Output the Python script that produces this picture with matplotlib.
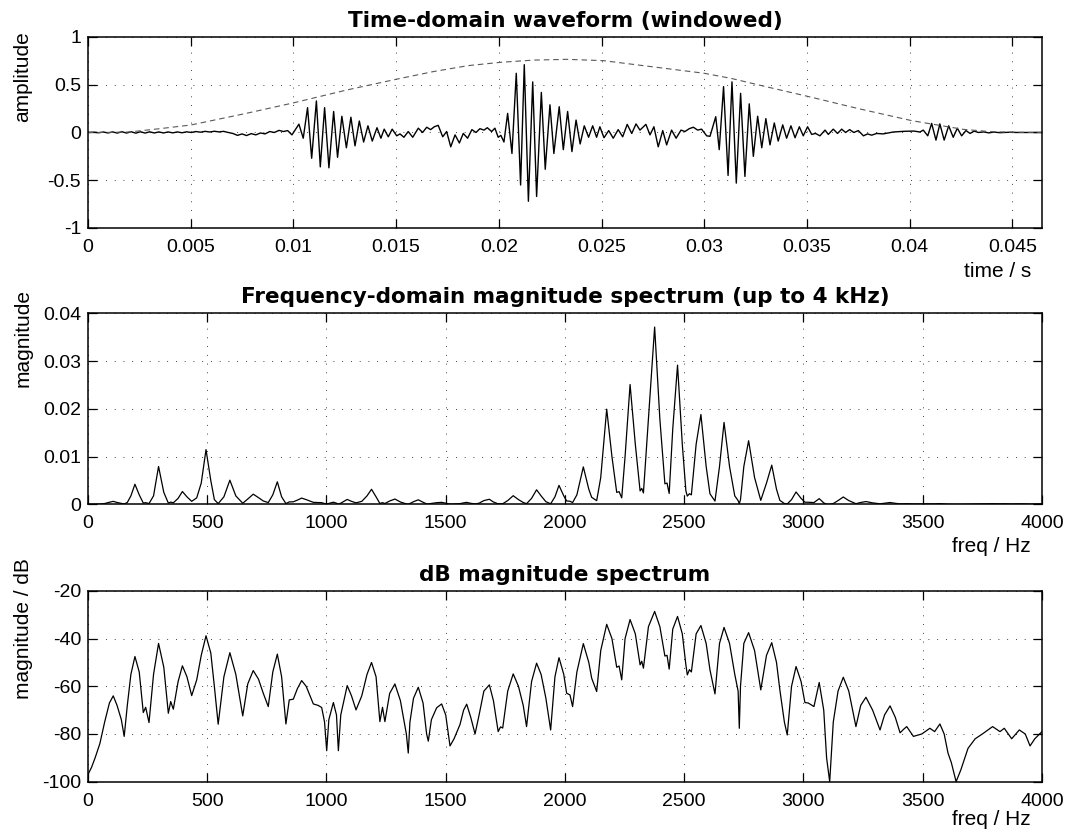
import numpy as np
import matplotlib
matplotlib.use("Agg")
import matplotlib.pyplot as plt

plt.rcParams['font.family'] = ['Liberation Sans', 'DejaVu Sans']
plt.rcParams['axes.unicode_minus'] = False  # plain hyphen minus like the original

# time-domain waveform (time in ms, amplitude)
wave_t = [0.00, 0.30, 0.52, 0.75, 0.98, 1.20, 1.43, 1.65, 1.88, 2.10, 2.33, 2.55, 2.78, 3.00, 3.23, 3.45,
          3.68, 3.90, 4.13, 4.35, 4.58, 4.80, 5.03, 5.25, 5.48, 5.70, 5.93, 6.15, 6.38, 6.60, 6.83, 7.05,
          7.28, 7.50, 7.72, 7.95, 8.17, 8.40, 8.62, 8.85, 9.07, 9.30, 9.52, 9.72, 9.93,
          10.27, 10.48, 10.69, 10.89, 11.12, 11.31, 11.52, 11.73, 11.96, 12.15, 12.36, 12.58, 12.80, 13.00,
          13.21, 13.42, 13.63, 13.84, 14.07, 14.26, 14.42, 14.62, 14.81, 15.03, 15.19, 15.38, 15.59, 15.81,
          16.08, 16.29, 16.49, 16.68, 16.86, 17.05, 17.27, 17.46, 17.66, 17.87, 18.08, 18.27, 18.48, 18.69,
          18.89, 19.08, 19.28, 19.44, 19.65, 19.81, 19.97, 20.10, 20.25,
          20.43, 20.64, 20.85, 21.06, 21.24, 21.44, 21.65, 21.84, 22.07, 22.26, 22.49, 22.68, 22.94, 23.14,
          23.35, 23.56, 23.76, 23.96, 24.16, 24.37, 24.57, 24.76, 24.92, 25.12, 25.35, 25.57, 25.81, 26.03,
          26.25, 26.47, 26.68, 26.87, 27.16, 27.36, 27.55, 27.76, 27.98, 28.17, 28.41, 28.63, 28.87, 29.06,
          29.27, 29.47, 29.68, 29.87, 30.12, 30.28,
          30.56, 30.73, 30.94, 31.16, 31.35, 31.56, 31.77, 31.98, 32.19, 32.39, 32.60, 32.80, 33.00, 33.20,
          33.41, 33.60, 33.82, 34.01, 34.22, 34.42, 34.63, 34.82, 35.03, 35.23, 35.42, 35.63, 35.88, 36.04,
          36.28, 36.49, 36.69,
          36.88, 37.08, 37.28, 37.50, 37.75, 37.95, 38.15, 38.40, 38.70, 39.20, 39.70, 40.20, 40.50, 40.66,
          40.88, 41.07, 41.28, 41.47, 41.68, 41.90, 42.12, 42.32, 42.53, 42.74, 42.94, 43.14, 43.34, 43.60,
          43.85, 44.10, 44.40, 44.80, 45.30, 46.44]
wave_y = [0.000, 0.003, -0.003, 0.005, -0.005, 0.006, -0.006, 0.008, -0.006, 0.008, -0.007, 0.008, -0.006,
          0.007, -0.005, 0.006, -0.005, 0.006, -0.004, 0.006, -0.003, 0.007, 0.000, 0.010, 0.003, 0.012,
          0.005, 0.013, 0.006, 0.012, 0.000, -0.010, -0.030, -0.015, -0.032, -0.012, -0.025, -0.005, -0.015,
          0.010, 0.000, 0.022, 0.010, 0.020, -0.025,
          0.087, -0.06, 0.26, -0.27, 0.33, -0.36, 0.26, -0.37, 0.22, -0.26, 0.17, -0.16, 0.16, -0.14,
          0.12, -0.10, 0.07, -0.09, 0.05, -0.06, 0.035, -0.045, 0.035, -0.035, -0.015, -0.05, 0.01, -0.05,
          0.045, 0.0, 0.055, 0.03, 0.06, 0.075, -0.045, 0.01, -0.15, -0.025, -0.11, -0.01, -0.06, 0.03,
          0.0, 0.04, 0.025, 0.05, 0.01, 0.045, -0.05, -0.03, -0.10,
          0.20, -0.22, 0.62, -0.55, 0.71, -0.72, 0.53, -0.67, 0.42, -0.385, 0.29, -0.22, 0.27, -0.18,
          0.22, -0.20, 0.13, -0.12, 0.07, -0.05, 0.07, -0.05, 0.06, -0.055, 0.02, -0.06, 0.03, -0.045,
          0.085, -0.01, 0.09, 0.025, 0.085, -0.025, 0.06, -0.15, 0.02, -0.13, 0.025, -0.06, 0.025, 0.01,
          0.04, 0.055, 0.025, 0.035, -0.035, -0.04,
          0.165, -0.18, 0.48, -0.45, 0.53, -0.53, 0.41, -0.46, 0.30, -0.25, 0.17, -0.16, 0.145, -0.13,
          0.10, -0.09, 0.08, -0.06, 0.07, -0.055, 0.06, -0.035, 0.06, -0.02, -0.01, -0.035, 0.025, -0.02,
          0.035, -0.01, 0.035,
          0.0, 0.03, 0.0, 0.02, -0.035, -0.015, -0.028, -0.01, -0.015, 0.005, 0.012, 0.015, 0.005, 0.025,
          -0.035, 0.095, -0.08, 0.09, -0.08, 0.07, -0.05, 0.045, -0.035, 0.02, -0.01, 0.015, 0.0, 0.006,
          -0.004, 0.004, -0.002, 0.002, 0.0, 0.0]

# window envelope (dashed), ms and value
win_t = [0.0, 1.0, 2.0, 3.5, 5.0, 7.7, 10.0, 12.6, 15.0, 16.8, 18.5, 20.1, 21.7, 23.3, 25.1, 27.4, 28.7,
         30.0, 31.3, 33.0, 35.1, 37.5, 40.1, 42.6, 44.0, 45.0, 46.44]
win_y = [0.0, 0.001, 0.005, 0.04, 0.078, 0.2, 0.31, 0.445, 0.557, 0.637, 0.70, 0.735, 0.758, 0.766, 0.752,
         0.69, 0.655, 0.62, 0.567, 0.48, 0.375, 0.25, 0.124, 0.033, 0.008, 0.003, 0.0]

# spectrum in dB (Hz, dB)
spec_f = [0, 15, 30, 50, 70, 90, 106, 122, 140, 152, 165, 180, 197, 215, 232, 242, 256, 275, 296, 318,
          337, 347, 358, 378, 396, 415, 435, 456, 475, 495, 515, 530, 546, 570, 595, 620, 649, 670, 693,
          715, 735, 756, 775, 794, 812, 830, 844, 861, 878, 896, 915, 945, 965, 980, 992, 1001, 1010, 1029,
          1042, 1050, 1060, 1087, 1105, 1124, 1148, 1170, 1189, 1208, 1224, 1235, 1245, 1265, 1287, 1310,
          1335, 1343, 1350, 1365, 1385, 1405, 1420, 1427, 1440, 1462, 1483, 1500, 1518, 1535, 1560, 1575,
          1588, 1605, 1623, 1640, 1660, 1683, 1700, 1720, 1730, 1739, 1760, 1783, 1805, 1825, 1839, 1860,
          1881, 1900, 1920, 1940, 1958, 1975, 1995, 2007, 2021, 2032, 2050, 2077, 2100, 2112, 2133, 2150,
          2175, 2197, 2217, 2227, 2238, 2252, 2273, 2295, 2315, 2322, 2329, 2350, 2376, 2398, 2419, 2428,
          2437, 2452, 2472, 2492, 2507, 2513, 2522, 2530, 2550, 2570, 2592, 2608, 2629, 2648, 2667, 2690,
          2712, 2726, 2731, 2736, 2750, 2770, 2795, 2821, 2845, 2867, 2887, 2901, 2920, 2932, 2950, 2969,
          2990, 3006, 3020, 3044, 3066, 3085, 3097, 3110, 3125, 3145, 3167, 3190, 3220, 3240, 3262, 3290,
          3321, 3340, 3363, 3385, 3405, 3420, 3433, 3461, 3496, 3530, 3550, 3572, 3590, 3606, 3620, 3640,
          3660, 3690, 3720, 3750, 3793, 3824, 3842, 3873, 3905, 3930, 3950, 3970, 4000]
spec_db = [-97, -94, -90, -84, -75, -67, -64, -68, -74, -81, -68, -55, -47.5, -54, -71, -68.8, -75.2, -55,
           -42, -52, -71.3, -66.4, -69.6, -58, -51.4, -56, -63.9, -57.3, -47, -38.8, -46, -60, -75.9, -56,
           -45.9, -55, -72.4, -59, -53.4, -57, -62.9, -68.5, -54, -46.5, -56, -75.8, -65.7, -65.4, -61,
           -57.6, -60, -67.4, -68, -68.9, -75, -87, -74, -66.8, -72, -87, -72, -59.7, -64, -69.9, -64, -55,
           -50, -56, -74.8, -68.8, -74.8, -63, -59, -66, -80, -88, -75, -65, -60.4, -67, -80, -83, -74, -69,
           -67.4, -72, -85, -82, -76, -70, -67.5, -73, -80, -72, -62, -59.4, -66, -79, -77, -77.5, -62,
           -54.8, -60, -68, -76.9, -58, -50.3, -55, -65, -78.3, -56, -48, -55, -62.9, -63.6, -68.5, -54,
           -42.1, -50, -56.6, -62.2, -45, -34.0, -40, -52, -51.5, -57.3, -40, -32.0, -38, -51, -49.5, -52.4,
           -35, -28.6, -35, -47.3, -47, -52.8, -36, -30.7, -38, -51, -55.2, -53, -54, -38, -34.5, -42,
           -53.1, -63.2, -42, -35.3, -42, -55, -62, -77.6, -60, -42, -37.5, -45, -61.5, -47, -41.7, -50,
           -61.5, -75, -80.4, -60, -51.7, -58, -66.8, -67, -68.5, -58.4, -70, -90, -100, -75, -62, -56.2,
           -62, -76.9, -68, -64.6, -70, -78.3, -72, -68.2, -73, -79.5, -78, -76.9, -81, -80, -77.6, -79,
           -75.8, -80, -88, -92, -100, -95, -86, -82, -80, -76.9, -79, -77.6, -82, -78.3, -80, -85, -82, -79]

time_ticks = [0, 0.005, 0.01, 0.015, 0.02, 0.025, 0.03, 0.035, 0.04, 0.045]
time_ticklabels = ['0', '0.005', '0.01', '0.015', '0.02', '0.025', '0.03', '0.035', '0.04', '0.045']
amp_ticks = [-1, -0.5, 0, 0.5, 1]
amp_ticklabels = ['-1', '-0.5', '0', '0.5', '1']
freq_ticks = [0, 500, 1000, 1500, 2000, 2500, 3000, 3500, 4000]
mag_ticks = [0, 0.01, 0.02, 0.03, 0.04]
mag_ticklabels = ['0', '0.01', '0.02', '0.03', '0.04']
db_ticks = [-100, -80, -60, -40, -20]

t = np.array(wave_t) / 1000.0
tw = np.array(win_t) / 1000.0
f = np.array(spec_f)
db = np.array(spec_db)
mag = 10 ** (db / 20.0)  # linear magnitude from dB

fig = plt.figure(figsize=(10.7, 8.33), dpi=100)
ax1 = fig.add_axes([0.0822, 0.7263, 0.8916, 0.2293])
ax2 = fig.add_axes([0.0822, 0.3945, 0.8916, 0.2292])
ax3 = fig.add_axes([0.0822, 0.0616, 0.8916, 0.2290])

title_font = dict(family='DejaVu Sans', fontsize=15.5, fontweight='bold')

def matlab_style(ax):
    for s in ax.spines.values():
        s.set_linewidth(1.1)
    ax.tick_params(direction='in', length=6.5, width=0.9, top=True, right=True,
                   labelsize=14, pad=8)
    ax.tick_params(axis='y', pad=5)
    ax.grid(True, color='k', linestyle=(0, (1, 9.5)), linewidth=0.6)

ax1.plot(t, wave_y, color='k', linewidth=1.0)
ax1.plot(tw, win_y, color='0.35', linewidth=0.8, linestyle=(0, (5, 3.5)))
ax1.set_xlim(0, 0.04644)
ax1.set_ylim(-1, 1)
ax1.set_xticks(time_ticks)
ax1.set_xticklabels(time_ticklabels)
ax1.set_yticks(amp_ticks)
ax1.set_yticklabels(amp_ticklabels)
matlab_style(ax1)
ax1.set_title('Time-domain waveform (windowed)', pad=7.5, **title_font)
ax1.set_ylabel('amplitude', fontsize=15)
ax1.yaxis.set_label_coords(-0.058, 0.792)
ax1.set_xlabel('time / s', fontsize=15, ha='right', va='center')
ax1.xaxis.set_label_coords(0.9885, -0.23)

ax2.plot(f, mag, color='k', linewidth=0.9)
ax2.set_xlim(0, 4000)
ax2.set_ylim(0, 0.04)
ax2.set_xticks(freq_ticks)
ax2.set_yticks(mag_ticks)
ax2.set_yticklabels(mag_ticklabels)
matlab_style(ax2)
ax2.set_title('Frequency-domain magnitude spectrum (up to 4 kHz)', pad=7.5, **title_font)
ax2.set_ylabel('magnitude', fontsize=15)
ax2.yaxis.set_label_coords(-0.058, 0.87)
ax2.set_xlabel('freq / Hz', fontsize=15, ha='right', va='center')
ax2.xaxis.set_label_coords(0.9885, -0.22)

ax3.plot(f, db, color='k', linewidth=0.9)
ax3.set_xlim(0, 4000)
ax3.set_ylim(-100, -20)
ax3.set_xticks(freq_ticks)
ax3.set_yticks(db_ticks)
matlab_style(ax3)
ax3.set_title('dB magnitude spectrum', pad=7.5, **title_font)
ax3.set_ylabel('magnitude / dB', fontsize=15)
ax3.yaxis.set_label_coords(-0.058, 0.805)
ax3.set_xlabel('freq / Hz', fontsize=15, ha='right', va='center')
ax3.xaxis.set_label_coords(0.9885, -0.2)

fig.savefig('out.png', dpi=100)
